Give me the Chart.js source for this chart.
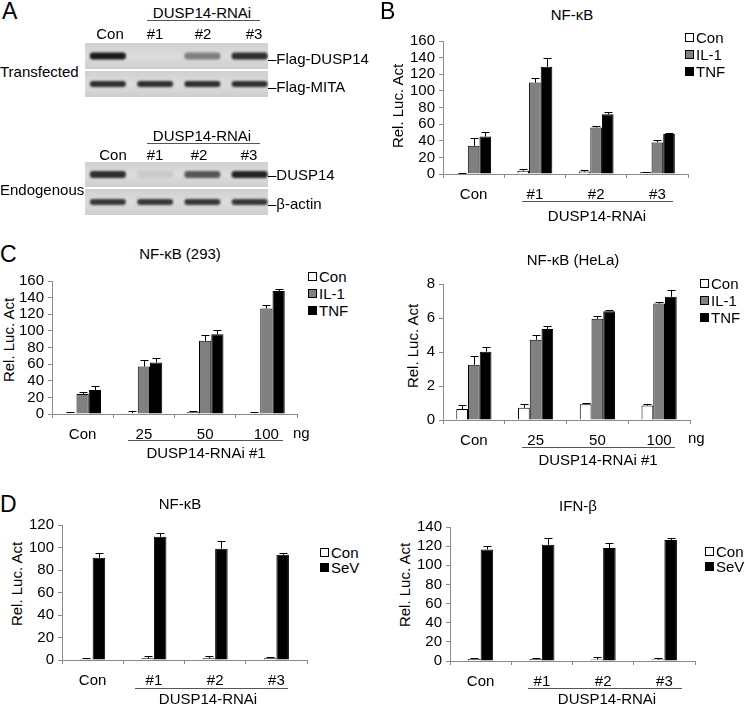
<!DOCTYPE html>
<html>
<head>
<meta charset="utf-8">
<script src="https://cdn.jsdelivr.net/npm/chart.js@4.4.0/dist/chart.umd.min.js"></script>
<style>
body { margin: 0; background: #fff; font-family: 'Liberation Sans', Arial, Helvetica, sans-serif; }
#fig { position: relative; width: 745px; height: 705px; overflow: hidden; background: #fff; }
.t { position: absolute; white-space: nowrap; font-size: 15px; line-height: 1; color: #000; }
.cc { transform: translate(-50%, -50%); }
.lc { transform: translate(0, -50%); }
.rot { transform: translate(-50%, -50%) rotate(-90deg); }
.big { font-size: 23px; }
.ln { position: absolute; height: 1px; background: #555; }
.sq { position: absolute; width: 7px; height: 7px; border: 1px solid #000; }
</style>
</head>
<body>
<div id="fig"></div>
<script>
// ---- data ----
const rnaiGroups = ['Con', '#1', '#2', '#3'];
const doseGroups = ['Con', '25', '50', '100'];
const stimNames = ['Con', 'IL-1', 'TNF'];
const sevNames = ['Con', 'SeV'];

// B: NF-kB, three RNAi constructs
const bCon = [1, 4, 3, 2];
const bIL1 = [34, 110, 56, 38];
const bTNF = [45, 129, 72, 48];
const bConErr = [0.8, 2, 1.5, 0.8];
const bIL1Err = [9, 5, 2, 3];
const bTNFErr = [5, 10, 3, 1.5];

// C: NF-kB (293), dose
const c293Con = [1, 1, 2, 1];
const c293IL1 = [24, 57, 88, 127];
const c293TNF = [29, 62, 96, 148];
const c293ConErr = [1, 2.5, 2, 1];
const c293IL1Err = [2, 8, 7, 4];
const c293TNFErr = [5, 5, 5, 2];

// C: NF-kB (HeLa), dose
const cHelaCon = [0.65, 0.72, 0.92, 0.85];
const cHelaIL1 = [3.25, 4.72, 5.95, 6.85];
const cHelaTNF = [4.02, 5.35, 6.4, 7.25];
const cHelaConErr = [0.22, 0.24, 0.08, 0.12];
const cHelaIL1Err = [0.5, 0.28, 0.17, 0.12];
const cHelaTNFErr = [0.3, 0.18, 0.1, 0.4];

// D: NF-kB and IFN-b, SeV
const dNfCon = [1, 1.5, 1.5, 1.5];
const dNfSeV = [91, 109.5, 99, 93.5];
const dNfConErr = [1, 2, 2.5, 1.5];
const dNfSeVErr = [4, 3, 7, 1.5];
const dIfnCon = [2, 1.7, 1.5, 1.5];
const dIfnSeV = [116.5, 121.5, 118, 126.5];
const dIfnConErr = [1.5, 1, 2.5, 2];
const dIfnSeVErr = [4, 7, 5, 2.5];

// A: western blot band intensities (Con, #1, #2, #3)
const flagDuspBand = [0.95, 0, 0.45, 0.85];
const flagMitaBand = [0.85, 0.85, 0.85, 0.85];
const endoDuspBand = [0.85, 0.08, 0.65, 0.9];
const actinBand = [0.8, 0.8, 0.8, 0.8];

const WHITE = '#ffffff', GRAY = '#808080', BLACK = '#000000';
const AXIS = '#8a8a8a';

Chart.defaults.font.family = "'Liberation Sans', Arial, Helvetica, sans-serif";
Chart.defaults.font.size = 15;
Chart.defaults.color = '#000';

const fig = document.getElementById('fig');

function txt(s, x, y, cls) {
  const d = document.createElement('div');
  d.className = 't ' + (cls || 'cc');
  d.style.left = x + 'px';
  d.style.top = y + 'px';
  d.textContent = s;
  fig.appendChild(d);
  return d;
}
function line(x1, x2, y) {
  const d = document.createElement('div');
  d.className = 'ln';
  d.style.cssText = `left:${x1}px;top:${y}px;width:${x2 - x1}px;`;
  fig.appendChild(d);
}
function legend(names, colors, x, y, gap) {
  names.forEach((n, i) => {
    const s = document.createElement('div');
    s.className = 'sq';
    s.style.cssText = `left:${x}px;top:${y + i * gap - 4}px;background:${colors[i]};`;
    fig.appendChild(s);
    txt(n, x + 11, y + i * gap, 'lc');
  });
}

// error bars on top of each bar
const errorBars = {
  id: 'errorBars',
  afterDatasetsDraw(chart) {
    const ctx = chart.ctx, ys = chart.scales.y;
    ctx.save();
    ctx.strokeStyle = '#000';
    ctx.lineWidth = 1;
    chart.data.datasets.forEach((ds, di) => {
      chart.getDatasetMeta(di).data.forEach((bar, i) => {
        const e = ds.errors[i];
        if (!e) return;
        const x = Math.round(bar.x) + 0.5;
        const top = Math.round(ys.getPixelForValue(ds.data[i] + e)) + 0.5;
        ctx.beginPath();
        ctx.moveTo(x, bar.y);
        ctx.lineTo(x, top);
        ctx.moveTo(x - 4, top);
        ctx.lineTo(x + 4, top);
        ctx.stroke();
      });
    });
    ctx.restore();
  }
};

function makeChart(g) {
  const yw = 44, padTop = 12, padRight = 6, xh = 34;
  const wrap = document.createElement('div');
  wrap.style.cssText = `position:absolute;left:${g.left - yw}px;top:${g.top - padTop}px;` +
    `width:${g.right - g.left + yw + padRight}px;height:${g.bottom - g.top + padTop + xh}px;`;
  const cv = document.createElement('canvas');
  wrap.appendChild(cv);
  fig.appendChild(wrap);
  new Chart(cv, {
    type: 'bar',
    data: {
      labels: g.labels,
      datasets: g.series.map(s => ({
        label: s.name, data: s.data, errors: s.err,
        backgroundColor: s.color, borderColor: '#000', borderWidth: 1,
        categoryPercentage: g.cat, barPercentage: 1
      }))
    },
    options: {
      responsive: true, maintainAspectRatio: false, animation: false,
      layout: { padding: { top: padTop, right: padRight, left: 0, bottom: 0 } },
      plugins: { legend: { display: false }, tooltip: { enabled: false } },
      scales: {
        x: {
          offset: true,
          grid: { offset: true, drawOnChartArea: false, tickLength: 4, color: AXIS },
          border: { color: AXIS },
          ticks: { padding: 8, autoSkip: false, maxRotation: 0 },
          afterFit(s) { s.height = xh; }
        },
        y: {
          min: 0, max: g.max,
          ticks: { stepSize: g.step, padding: 4, autoSkip: false },
          grid: { drawOnChartArea: false, tickLength: 4, color: AXIS },
          border: { color: AXIS },
          afterFit(s) { s.width = yw; }
        }
      }
    },
    plugins: [errorBars]
  });
}

// ---- panel A: blots ----
(function drawBlots() {
  const cv = document.createElement('canvas');
  cv.width = 200; cv.height = 180;
  cv.style.cssText = 'position:absolute;left:80px;top:40px;';
  fig.appendChild(cv);
  const ctx = cv.getContext('2d');
  const strips = [
    { top: 3, h: 26, bands: flagDuspBand, th: 7 },
    { top: 31, h: 26, bands: flagMitaBand, th: 6 },
    { top: 122, h: 25, bands: endoDuspBand, th: 7 },
    { top: 149, h: 26, bands: actinBand, th: 6 }
  ];
  strips.forEach(s => {
    const grd = ctx.createLinearGradient(0, s.top, 0, s.top + s.h);
    grd.addColorStop(0, '#d0d0d0');
    grd.addColorStop(0.5, '#dcdcdc');
    grd.addColorStop(1, '#cecece');
    ctx.fillStyle = grd;
    ctx.fillRect(5, s.top, 183, s.h);
    const lw = 183 / 4;
    s.bands.forEach((a, i) => {
      if (a <= 0) return;
      const cx = 5 + lw * (i + 0.5) + i * 1.5;
      ctx.save();
      ctx.filter = 'blur(1.3px)';
      ctx.fillStyle = `rgba(15,15,15,${a})`;
      ctx.beginPath();
      ctx.roundRect(cx - 18, s.top + s.h / 2 - s.th / 2, 36, s.th, 3);
      ctx.fill();
      ctx.restore();
    });
  });
})();

txt('A', 2, 0, 'big');
txt('DUSP14-RNAi', 202, 12);
line(147, 260, 20);
txt('Con', 110, 33); txt('#1', 155, 33); txt('#2', 203, 33); txt('#3', 254, 33);
txt('Transfected', 0, 71, 'lc');
txt('–Flag-DUSP14', 268, 58, 'lc');
txt('–Flag-MITA', 268, 86, 'lc');
txt('DUSP14-RNAi', 202, 135);
line(147, 260, 143);
txt('Con', 113, 154); txt('#1', 155, 154); txt('#2', 199, 154); txt('#3', 249, 154);
txt('Endogenous', 0, 189, 'lc');
txt('–DUSP14', 268, 174, 'lc');
txt('–β-actin', 268, 203, 'lc');

// ---- panel B ----
txt('B', 380, 0, 'big');
txt('NF-κB', 572, 14);
txt('Rel. Luc. Act', 397, 106, 'rot');
makeChart({ left: 443, right: 688, top: 40, bottom: 174, max: 160, step: 20, cat: 0.57, labels: rnaiGroups,
  series: [
    { name: stimNames[0], data: bCon, err: bConErr, color: WHITE },
    { name: stimNames[1], data: bIL1, err: bIL1Err, color: GRAY },
    { name: stimNames[2], data: bTNF, err: bTNFErr, color: BLACK }
  ] });
legend(stimNames, [WHITE, GRAY, BLACK], 685, 37, 17);
line(522, 673, 201);
txt('DUSP14-RNAi', 597, 215);

// ---- panel C left ----
txt('C', 0, 243, 'big');
txt('NF-κB (293)', 180, 253);
txt('Rel. Luc. Act', 8, 340, 'rot');
makeChart({ left: 52, right: 297, top: 280, bottom: 414, max: 160, step: 20, cat: 0.6, labels: doseGroups,
  series: [
    { name: stimNames[0], data: c293Con, err: c293ConErr, color: WHITE },
    { name: stimNames[1], data: c293IL1, err: c293IL1Err, color: GRAY },
    { name: stimNames[2], data: c293TNF, err: c293TNFErr, color: BLACK }
  ] });
legend(stimNames, [WHITE, GRAY, BLACK], 308, 276, 17);
txt('ng', 293, 432, 'lc');
line(128, 283, 440);
txt('DUSP14-RNAi #1', 206, 452);

// ---- panel C right ----
txt('NF-κB (HeLa)', 573, 259);
txt('Rel. Luc. Act', 412, 346, 'rot');
makeChart({ left: 443, right: 690, top: 283, bottom: 420, max: 8, step: 2, cat: 0.57, labels: doseGroups,
  series: [
    { name: stimNames[0], data: cHelaCon, err: cHelaConErr, color: WHITE },
    { name: stimNames[1], data: cHelaIL1, err: cHelaIL1Err, color: GRAY },
    { name: stimNames[2], data: cHelaTNF, err: cHelaTNFErr, color: BLACK }
  ] });
legend(stimNames, [WHITE, GRAY, BLACK], 700, 283, 17);
txt('ng', 688, 437, 'lc');
line(522, 675, 447);
txt('DUSP14-RNAi #1', 598, 459);

// ---- panel D left ----
txt('D', 0, 493, 'big');
txt('NF-κB', 180, 503);
txt('Rel. Luc. Act', 16, 584, 'rot');
makeChart({ left: 62, right: 307, top: 524, bottom: 660, max: 120, step: 20, cat: 0.41, labels: rnaiGroups,
  series: [
    { name: sevNames[0], data: dNfCon, err: dNfConErr, color: WHITE },
    { name: sevNames[1], data: dNfSeV, err: dNfSeVErr, color: BLACK }
  ] });
legend(sevNames, [WHITE, BLACK], 320, 552, 15);
line(135, 288, 688);
txt('DUSP14-RNAi', 208, 698);

// ---- panel D right ----
txt('IFN-β', 578, 505);
txt('Rel. Luc. Act', 404, 585, 'rot');
makeChart({ left: 450, right: 695, top: 526, bottom: 661, max: 140, step: 20, cat: 0.41, labels: rnaiGroups,
  series: [
    { name: sevNames[0], data: dIfnCon, err: dIfnConErr, color: WHITE },
    { name: sevNames[1], data: dIfnSeV, err: dIfnSeVErr, color: BLACK }
  ] });
legend(sevNames, [WHITE, BLACK], 705, 551, 15);
line(528, 682, 688);
txt('DUSP14-RNAi', 607, 698);
</script>
</body>
</html>
